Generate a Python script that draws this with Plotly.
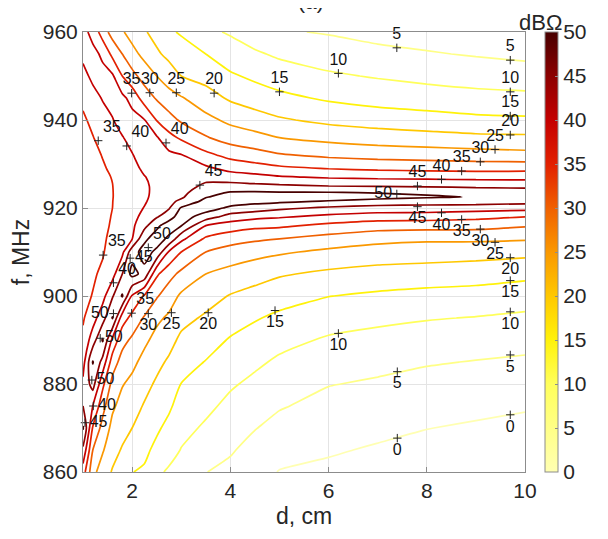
import plotly.graph_objects as go

# ---------------- data ----------------
d_cm = [1.0, 1.2, 1.4, 1.6, 1.8, 2.0, 2.25, 2.5, 2.75, 3.0, 3.5, 4.0, 4.5, 5.0, 6.0, 7.0, 8.0, 9.0, 10.0]
f_mhz = [860, 865, 870, 875, 880, 885, 890, 895, 900, 905, 910, 913, 916, 918, 920,
         921.5, 922.5, 923.5, 925, 927, 929, 932, 936, 940, 945, 950, 955, 960]

# |Z| in dB-Ohm, one list per distance column (values along f_mhz)
z_d1_0 = [37.5, 44, 50.5, 45, 41, 38, 36, 34.5, 33.8, 33, 32.3, 31.8, 31.5, 31.3, 31.2, 31.2, 31.2, 31.2, 31.3, 31.5, 31.8, 32.3, 33.1, 34.2, 36.1, 38.7, 41, 41.5]
z_d1_2 = [26.5, 30, 34.5, 40, 47, 50.3, 42.5, 38, 35.2, 34.4, 33.8, 33.4, 33, 32.8, 32.7, 32.7, 32.7, 32.7, 32.8, 33, 33.3, 33.8, 34.8, 36.2, 38.5, 41, 41.3, 38.5]
z_d1_4 = [22.5, 25.5, 28.3, 31.7, 36.2, 43.3, 50.5, 43, 38.3, 35.8, 34.6, 34.2, 33.8, 33.6, 33.5, 33.5, 33.5, 33.6, 33.8, 34, 34.5, 35.2, 36.8, 38.3, 40.3, 41.3, 39.2, 32.5]
z_d1_6 = [19.6, 21.6, 23.6, 25.8, 28.4, 32.5, 38.8, 50.3, 44.5, 38.2, 37, 36.3, 35.6, 35.3, 35.0, 34.9, 34.8, 34.8, 34.9, 35.2, 35.8, 36.6, 38, 39.8, 41.3, 40.7, 33.7, 28]
z_d1_8 = [17.3, 19.6, 21.5, 23.3, 25.3, 28, 31.7, 37.2, 50.5, 45, 38.8, 38.6, 38.2, 37.9, 37.7, 37.6, 37.5, 37.5, 37.6, 37.8, 38.2, 38.8, 39.8, 41.5, 41.2, 35, 30, 25.5]
z_d2_0 = [15.1, 17.5, 20, 21.9, 23.8, 26.2, 29.1, 33.5, 39.4, 51.5, 48, 39.8, 39, 38.5, 38.1, 37.9, 37.8, 37.8, 37.9, 38.2, 38.7, 39.8, 41.2, 41.8, 38.3, 31.5, 26.7, 23]
z_d2_25 = [14.4, 16, 17.8, 19.6, 21.5, 23.5, 26, 29.5, 34.5, 48.5, 51.8, 49, 43.5, 41.5, 40.2, 39.5, 39.2, 39.1, 39.2, 39.8, 40.8, 41.7, 41.7, 40.2, 32.6, 28, 23.5, 20.5]
z_d2_5 = [11.0, 13.9, 15.7, 17.5, 19.3, 21.3, 23.5, 26, 30.5, 35.8, 49, 52.2, 49, 44.5, 42.8, 41.9, 41.5, 41.3, 41.2, 41.3, 41.6, 41.8, 40.5, 34.8, 29.5, 25, 20.8, 18.3]
z_d2_75 = [9.3, 11.9, 13.8, 15.7, 17.7, 19.3, 21.6, 24.2, 27.3, 31.7, 39.5, 49, 52.4, 48, 44.6, 43.8, 43.2, 42.7, 42.2, 41.9, 41.6, 41.2, 36.5, 31.8, 27, 22.5, 18.7, 15.7]
z_d3_0 = [7.9, 9.8, 11.5, 13.2, 14.9, 17, 19, 21.5, 24.2, 28.8, 35, 41.3, 50.2, 52.5, 50.5, 46, 44.3, 43.6, 42.8, 42.2, 41.6, 40.3, 34.2, 29.3, 25.4, 20, 17.2, 14.5]
z_d3_5 = [5.1, 7.2, 9.3, 11.1, 13, 14.8, 17, 19.3, 22, 25, 30, 34.2, 40, 47.5, 52.4, 51.5, 49.7, 48.3, 46, 43.5, 41, 36.3, 30.4, 26.4, 22.1, 18.3, 15, 11]
z_d4_0 = [3.8, 5.5, 7.2, 8.8, 10.6, 12.6, 14.6, 17.1, 19.7, 23.3, 28, 32, 37.7, 42.8, 49, 52.5, 52.2, 50.4, 46.7, 42.4, 38.5, 33.5, 27.8, 23.9, 19.3, 15.7, 12.3, 9.5]
z_d4_5 = [1.8, 3.3, 5.2, 7.0, 8.9, 10.9, 13.1, 15.4, 18.4, 21.8, 26.7, 30.8, 36.3, 41.3, 47.6, 51.5, 53.0, 50.6, 46.2, 41.6, 37.3, 31.9, 26.6, 22.1, 17.7, 14.0, 10.7, 7.3]
z_d5_0 = [-0.2, 1.7, 3.5, 5.4, 7.3, 9.2, 11.5, 14, 17, 20.5, 25.7, 30, 35.9, 40.5, 46, 51, 53.2, 50.4, 45.8, 40.5, 36, 30.5, 25, 20.6, 16.2, 12.6, 9.2, 5.5]
z_d6_0 = [-1, 0.5, 1.9, 3.5, 5.2, 7.3, 9.4, 12.2, 15.1, 19, 23.9, 28.1, 33.8, 38.7, 44.2, 49.5, 53, 50.3, 45, 39.5, 34.8, 29, 23.5, 18.8, 14.3, 10.7, 7.6, 4.6]
z_d7_0 = [-2, -0.5, 1.1, 2.7, 4.4, 6.3, 8.6, 11, 14.2, 18, 22.9, 26.4, 32.3, 37.3, 43.2, 48, 51.7, 49.8, 44.7, 39, 34, 28.2, 22.5, 17.7, 13.1, 9.6, 6.4, 3.3]
z_d8_0 = [-3, -1.5, 0.1, 1.7, 3.4, 5.4, 7.8, 10.3, 13.5, 17.6, 22.4, 25.8, 32, 37.2, 42.9, 47.5, 50.5, 49.3, 44.4, 38.7, 33.6, 27.7, 21.8, 16.9, 12.4, 8.6, 5.4, 2.8]
z_d9_0 = [-3.7, -2.2, -0.6, 1.2, 3, 4.8, 7.2, 9.8, 13, 17.2, 21.9, 25.9, 31.8, 36.3, 42.3, 47.5, 49.8, 48.2, 44, 38.4, 33.2, 27.2, 21.1, 16.1, 11.6, 7.9, 4.6, 2.3]
z_d10_0 = [-4.5, -3, -1.3, 0.5, 2.3, 4.3, 6.5, 9, 12.4, 16.2, 21.4, 25.5, 30.5, 35, 41.8, 46.8, 48.9, 47.6, 43.7, 38.4, 33.4, 26.6, 20.9, 15.8, 11.2, 7.5, 3.8, 2]

# contour-label positions (d, f) and texts
label_d = [7.39, 9.70, 6.20, 9.70, 9.70, 9.70, 9.39, 9.09, 8.71, 8.30, 7.81, 7.39,
           7.81, 8.30, 8.71, 9.09, 9.39, 9.70, 9.70, 9.70, 9.70, 9.70, 6.20, 7.40, 7.40,
           1.99, 2.36, 2.90, 3.67, 5.00, 1.31, 1.89, 2.69, 3.38,
           2.33, 1.96, 1.41, 1.62, 1.99, 2.33, 2.80, 3.55, 4.91,
           1.62, 1.35, 1.18, 1.21, 1.04]
label_f = [956.4, 953.6, 950.6, 946.4, 940.9, 936.6, 933.3, 930.5, 928.4, 926.5, 925.0, 923.2,
           920.3, 918.9, 917.4, 915.2, 912.2, 908.7, 903.5, 896.4, 886.6, 873.0, 891.5, 882.8, 867.7,
           946.1, 946.2, 946.2, 946.1, 946.4, 935.3, 934.1, 934.8, 925.2,
           911.0, 908.6, 909.3, 903.0, 896.1, 896.0, 896.2, 896.2, 896.7,
           896.0, 890.4, 880.9, 875.0, 871.2]
label_txt = ["5", "5", "10", "10", "15", "20", "25", "30", "35", "40", "45", "50",
             "45", "40", "35", "30", "25", "20", "15", "10", "5", "0", "10", "5", "0",
             "35", "30", "25", "20", "15", "35", "40", "40", "45",
             "50", "45", "35", "40", "35", "30", "25", "20", "15",
             "50", "50", "50", "40", "45"]
levels = [0, 50, 5]  # start, end, step of contour levels (dB-Ohm)

# ---------------- styling ----------------
label_pos = (["top center"] * 11 + ["middle left"] +
             ["bottom center"] * 13 +
             ["top center"] * 5 + ["top right"] * 4 +
             ["top right", "middle right", "top right", "top right", "top right",
              "bottom center", "bottom center", "bottom center", "bottom center"] +
             ["middle left", "middle right", "middle right", "middle right", "middle right"])

cscale = [
    [0.0, "rgb(255,255,178)"],
    [0.2, "rgb(255,255,90)"],
    [0.3, "rgb(255,242,10)"],
    [0.4, "rgb(255,200,0)"],
    [0.5, "rgb(250,152,0)"],
    [0.6, "rgb(240,96,0)"],
    [0.7, "rgb(226,32,0)"],
    [0.8, "rgb(196,0,0)"],
    [0.9, "rgb(140,0,0)"],
    [1.0, "rgb(72,0,0)"],
]

columns = [z_d1_0, z_d1_2, z_d1_4, z_d1_6, z_d1_8, z_d2_0, z_d2_25, z_d2_5, z_d2_75,
           z_d3_0, z_d3_5, z_d4_0, z_d4_5, z_d5_0, z_d6_0, z_d7_0, z_d8_0, z_d9_0, z_d10_0]
z = [list(row) for row in zip(*columns)]

FONT = "Liberation Sans, Arial, Helvetica, sans-serif"
TXT = "#262626"
AXC = "#8c8c8c"

fig = go.Figure()
fig.add_trace(go.Contour(
    x=d_cm, y=f_mhz, z=z,
    zmin=levels[0], zmax=levels[1],
    colorscale=cscale,
    contours=dict(coloring="lines", start=levels[0], end=levels[1], size=levels[2],
                  showlabels=False),
    line=dict(width=1.7, smoothing=0.6),
    showscale=False,
    hoverinfo="skip",
))

# contour labels with '+' markers
fig.add_trace(go.Scatter(
    x=label_d, y=label_f, text=label_txt, mode="markers+text",
    textposition=label_pos,
    marker=dict(symbol="cross-thin", size=6, line=dict(width=1, color="#222")),
    textfont=dict(family=FONT, size=16, color="#111"),
    showlegend=False, hoverinfo="skip", cliponaxis=False,
))

# continuous colorbar
fig.add_trace(go.Scatter(
    x=[None], y=[None], mode="markers",
    marker=dict(colorscale=cscale, cmin=levels[0], cmax=levels[1], color=[0],
                showscale=True,
                colorbar=dict(
                    x=1.045, xanchor="left", y=0.5, yanchor="middle",
                    len=1, lenmode="fraction", thickness=13,
                    xpad=0, ypad=0,
                    outlinewidth=1, outlinecolor=AXC,
                    tickvals=list(range(0, 51, 5)),
                    ticks="inside", ticklen=3, tickcolor=AXC,
                    tickfont=dict(family=FONT, size=21, color=TXT),
                )),
    showlegend=False, hoverinfo="skip",
))

axis_common = dict(
    showline=True, mirror=True, linecolor=AXC, linewidth=1,
    ticks="inside", ticklen=5, tickcolor=AXC,
    showgrid=True, gridcolor="#e4e4e4", gridwidth=1, zeroline=False,
    tickfont=dict(family=FONT, size=21, color=TXT),
)

# the page body has an 8 px margin, so the figure is 8 px smaller and shifted
fig.update_layout(
    width=600, height=531,
    paper_bgcolor="white", plot_bgcolor="white",
    margin=dict(l=75, r=83, t=24, b=67, autoexpand=False),
    showlegend=False,
    xaxis=dict(range=[1, 10], tickvals=[2, 4, 6, 8, 10],
               title=dict(text="d, cm", font=dict(family=FONT, size=23, color=TXT), standoff=6),
               **axis_common),
    yaxis=dict(range=[860, 960], tickvals=list(range(860, 961, 20)),
               title=dict(text="f, MHz", font=dict(family=FONT, size=23, color=TXT), standoff=8),
               **axis_common),
    annotations=[
        dict(text="(a)", x=0.515, y=1.0, xref="paper", yref="paper",
             xanchor="center", yanchor="bottom", yshift=17, showarrow=False,
             font=dict(family=FONT, size=21, color=TXT)),
        dict(text="dBΩ", x=1.036, y=1.0227, xref="paper", yref="paper",
             xanchor="center", yanchor="middle", showarrow=False,
             font=dict(family=FONT, size=22, color=TXT)),
    ],
)

fig.write_html("out.html")
